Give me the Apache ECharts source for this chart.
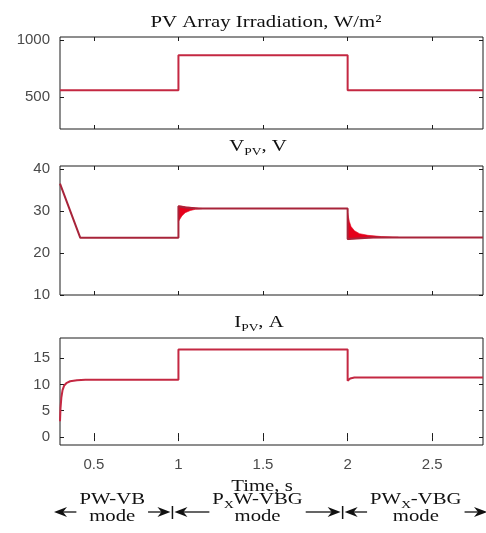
<!DOCTYPE html>
<html>
<head>
<meta charset="utf-8">
<script src="https://cdn.jsdelivr.net/npm/echarts@6/dist/echarts.min.js"></script>
<style>
  html, body { margin: 0; padding: 0; background: #fff; }
  #chart { width: 486px; height: 533px; }
</style>
</head>
<body>
<div id="chart"></div>
<script>
// Time axis ticks (s)
const timeTicks = [0.5, 1, 1.5, 2, 2.5];

// PV array irradiation, W/m^2
const irrTime = [0.3, 1.0, 1.0, 2.0, 2.0, 2.8];
const irrValue = [560, 560, 865, 865, 560, 560];
const irrTicks = [500, 1000];

// PV voltage, V (mean trace)
const vTime = [0.3, 0.42, 1.0, 1.0, 1.04, 1.12, 2.0, 2.0, 2.15, 2.8];
const vValue = [36.5, 23.6, 23.6, 31.1, 30.8, 30.6, 30.6, 23.3, 23.7, 23.7];
// ripple envelope after the step at t = 1 s
const rip1Time = [1.0, 1.02, 1.04, 1.07, 1.1, 1.14];
const rip1Low = [27.5, 28.8, 29.6, 30.1, 30.4, 30.55];
const rip1High = [31.2, 31.15, 31.0, 30.85, 30.7, 30.6];
// ripple envelope after the step at t = 2 s
const rip2Time = [2.0, 2.01, 2.02, 2.04, 2.07, 2.12, 2.2, 2.3];
const rip2Low = [23.2, 23.2, 23.3, 23.4, 23.5, 23.6, 23.65, 23.7];
const rip2High = [29.5, 27.5, 26.3, 25.3, 24.6, 24.2, 23.9, 23.75];
const vTicks = [10, 20, 30, 40];

// PV current, A
const iTime = [0.3, 0.303, 0.308, 0.315, 0.325, 0.34, 0.36, 0.4, 0.45, 1.0, 1.0, 2.0, 2.0, 2.015, 2.04, 2.8];
const iValue = [3.0, 5.5, 7.5, 8.9, 9.8, 10.3, 10.6, 10.8, 10.9, 10.9, 16.6, 16.6, 10.7, 11.1, 11.3, 11.3];
const iTicks = [0, 5, 10, 15];

// operating modes along the time axis
const modeNames = [
  '{m|PW-VB}',
  '{m|P}{s|X}{m|W-VBG}',
  '{m|PW}{s|X}{m|-VBG}'
];
const modeWord = 'mode';

const zip = (xs, ys) => xs.map((x, i) => [x, ys[i]]);

const SERIF = '"Liberation Serif", "DejaVu Serif", serif';
const SANS = '"Liberation Sans", Arial, sans-serif';
const LABEL_COLOR = '#4a4a4a';
const FRAME = '#1c1c1c';
const TRACE = '#c42842';

const grids = [
  { left: 60, right: 3, top: 37, height: 92 },
  { left: 60, right: 3, top: 166, height: 129 },
  { left: 60, right: 3, top: 338, height: 107 }
];
const yRanges = [[220, 1025, irrTicks], [10, 40.7, vTicks], [-1.5, 18.8, iTicks]];

function xAxisFor(gi, position, labels) {
  return {
    type: 'value', gridIndex: gi, position: position, min: 0.3, max: 2.8,
    axisLine: { show: false },
    axisTick: { inside: true, length: 4, customValues: timeTicks, lineStyle: { color: FRAME } },
    axisLabel: { show: labels, customValues: timeTicks, formatter: v => String(v), color: LABEL_COLOR, fontSize: 15, fontFamily: SANS, margin: 12 },
    splitLine: { show: false }
  };
}
function yAxisFor(gi, position, labels) {
  const r = yRanges[gi];
  return {
    type: 'value', gridIndex: gi, position: position, min: r[0], max: r[1],
    axisLine: { show: false },
    axisTick: { inside: true, length: 4, customValues: r[2], lineStyle: { color: FRAME } },
    axisLabel: { show: labels, customValues: r[2], formatter: v => String(v), color: LABEL_COLOR, fontSize: 15, fontFamily: SANS, margin: 10 },
    splitLine: { show: false }
  };
}

function bandSeries(ts, lows, highs) {
  return {
    type: 'custom', xAxisIndex: 1, yAxisIndex: 1, silent: true, z: 3,
    data: [[ts[0], lows[0]]],
    renderItem: function (params, api) {
      const pts = [];
      for (let i = 0; i < ts.length; i++) pts.push(api.coord([ts[i], highs[i]]));
      for (let i = ts.length - 1; i >= 0; i--) pts.push(api.coord([ts[i], lows[i]]));
      return { type: 'polygon', shape: { points: pts }, style: { fill: '#e5001b', stroke: '#e5001b', lineWidth: 0.6 } };
    }
  };
}

const lineStyle = { color: TRACE, width: 2 };

const chart = echarts.init(document.getElementById('chart'), null, { renderer: 'canvas' });
chart.setOption({
  animation: false,
  backgroundColor: '#ffffff',
  grid: grids.map(g => Object.assign({ show: true, borderColor: FRAME, borderWidth: 1, backgroundColor: 'transparent' }, g)),
  xAxis: [
    xAxisFor(0, 'bottom', false), xAxisFor(1, 'bottom', false), xAxisFor(2, 'bottom', true),
    xAxisFor(0, 'top', false), xAxisFor(1, 'top', false), xAxisFor(2, 'top', false)
  ],
  yAxis: [
    yAxisFor(0, 'left', true), yAxisFor(1, 'left', true), yAxisFor(2, 'left', true),
    yAxisFor(0, 'right', false), yAxisFor(1, 'right', false), yAxisFor(2, 'right', false)
  ],
  series: [
    { type: 'line', xAxisIndex: 0, yAxisIndex: 0, data: zip(irrTime, irrValue), symbol: 'none', lineStyle: lineStyle, z: 4 },
    bandSeries(rip1Time, rip1Low, rip1High),
    bandSeries(rip2Time, rip2Low, rip2High),
    { type: 'line', xAxisIndex: 1, yAxisIndex: 1, data: zip(vTime, vValue), symbol: 'none', lineStyle: { color: '#a8243a', width: 2 }, z: 4 },
    { type: 'line', xAxisIndex: 2, yAxisIndex: 2, data: zip(iTime, iValue), symbol: 'none', lineStyle: lineStyle, z: 4 }
  ]
});

// ---- titles and mode annotations ----
const FS = 17, SUB = 11, SX = 1.22;
const rich = {
  m: { fontSize: FS, fontFamily: SERIF, fill: '#111', lineHeight: 22, verticalAlign: 'middle' },
  s: { fontSize: SUB, fontFamily: SERIF, fill: '#111', lineHeight: 12, verticalAlign: 'bottom' }
};
function label(text, x, y) {
  return {
    type: 'text', x: x, y: y, scaleX: SX, silent: true, z: 10,
    style: { text: text, rich: rich, x: 0, y: 0, align: 'center', verticalAlign: 'middle', fill: '#111', font: FS + 'px ' + SERIF }
  };
}

const ctx = document.createElement('canvas').getContext('2d');
function richWidth(text) {
  let w = 0;
  text.replace(/\{(\w)\|([^}]*)\}/g, function (_, k, s) {
    ctx.font = (k === 's' ? SUB : FS) + 'px ' + SERIF;
    w += ctx.measureText(s).width;
    return '';
  });
  return w * SX;
}

const elements = [
  label('{m|PV Array Irradiation, W/m²}', 266, 23),
  label('{m|V}{s|PV}{m|, V}', 258, 147),
  label('{m|I}{s|PV}{m|, A}', 259, 323),
  label('{m|Time, s}', 262, 487)
];

const xPx = t => chart.convertToPixel({ xAxisIndex: 2 }, t);
const bounds = [52, xPx(1) - 6, xPx(2) - 5, 489];
const ARROW_Y = 512;
function head(tipX, dir) {
  const y = ARROW_Y;
  return {
    type: 'polygon', silent: true, z: 10,
    shape: { points: [[tipX, y], [tipX - dir * 13, y - 5], [tipX - dir * 9, y], [tipX - dir * 13, y + 5]] },
    style: { fill: '#111' }
  };
}
function shaft(x1, x2) {
  return { type: 'line', silent: true, z: 9, shape: { x1: x1, y1: ARROW_Y, x2: x2, y2: ARROW_Y }, style: { stroke: '#111', lineWidth: 1.3 } };
}
for (let i = 0; i < 3; i++) {
  const a = bounds[i], b = bounds[i + 1];
  const c = (a + b) / 2;
  const hw = Math.max(richWidth(modeNames[i]), richWidth('{m|' + modeWord + '}')) / 2;
  elements.push(label(modeNames[i], c, 500));
  elements.push(label('{m|' + modeWord + '}', c, 517));
  elements.push(head(a + 2, -1), shaft(a + 6, c - hw - 3));
  elements.push(head(b - 2, 1), shaft(c + hw + 3, b - 6));
}
[bounds[1], bounds[2]].forEach(x => {
  elements.push({ type: 'line', silent: true, z: 10, shape: { x1: x, y1: 506, x2: x, y2: 519 }, style: { stroke: '#111', lineWidth: 1.5 } });
});

chart.setOption({ graphic: { elements: elements } });
</script>
</body>
</html>
